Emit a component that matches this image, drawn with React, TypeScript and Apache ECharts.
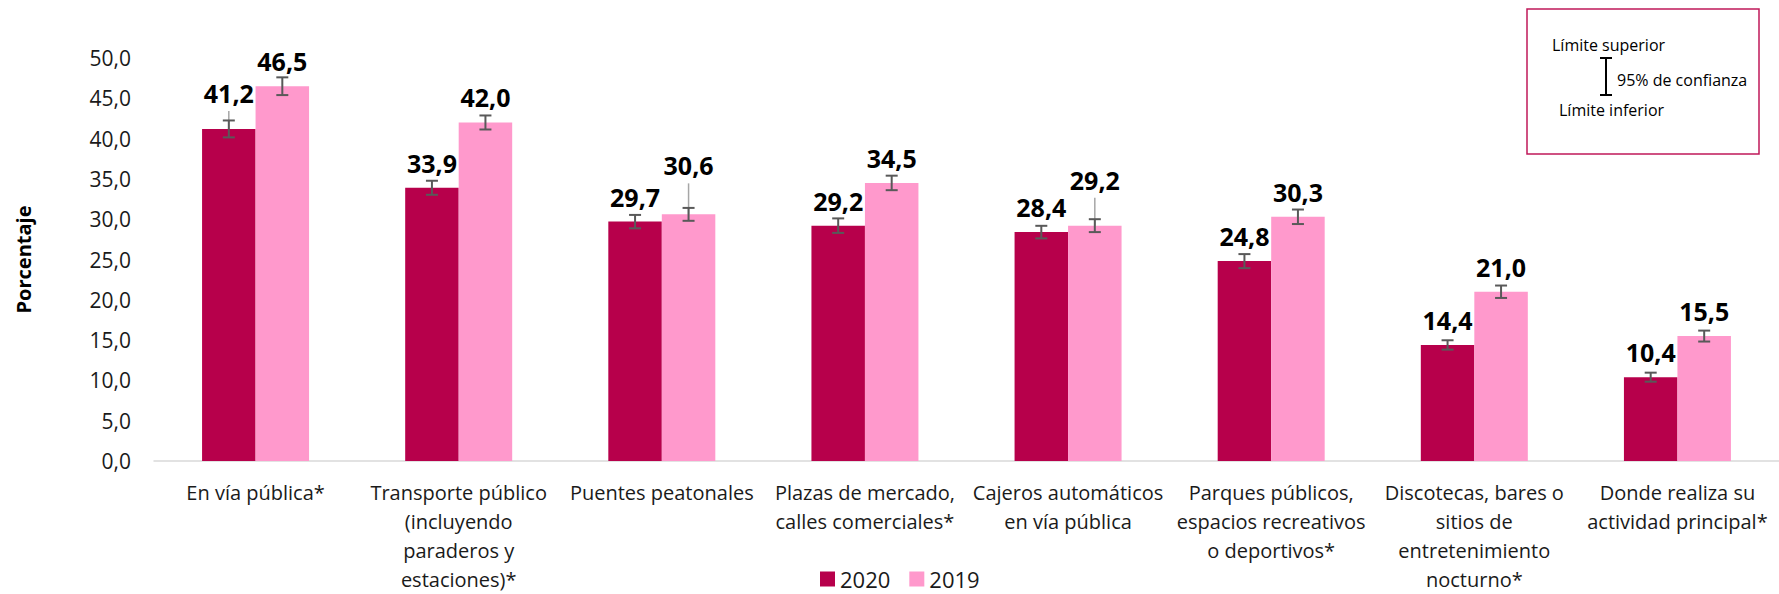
import React, { useEffect, useRef } from "react";
import * as echarts from "echarts";

const categories = [
  "En vía pública*",
  "Transporte público\n(incluyendo\nparaderos y\nestaciones)*",
  "Puentes peatonales",
  "Plazas de mercado,\ncalles comerciales*",
  "Cajeros automáticos\nen vía pública",
  "Parques públicos,\nespacios recreativos\no deportivos*",
  "Discotecas, bares o\nsitios de\nentretenimiento\nnocturno*",
  "Donde realiza su\nactividad principal*",
];
const values2020 = [41.2, 33.9, 29.7, 29.2, 28.4, 24.8, 14.4, 10.4];
const values2019 = [46.5, 42.0, 30.6, 34.5, 29.2, 30.3, 21.0, 15.5];
const err2020 = [1.05, 0.87, 0.83, 0.9, 0.78, 0.87, 0.58, 0.56];
const err2019 = [1.1, 0.87, 0.8, 0.9, 0.8, 0.9, 0.77, 0.68];
// labels moved up by hand in the original (with a leader line)
const labelLift2020 = [11, 0, 0, 0, 0, 0, 0, 0];
const labelLift2019 = [0, 0, 24, 0, 21, 0, 0, 0];
const seriesNames = ["2020", "2019"];

const C2020 = "#B7004B";
const C2019 = "#FF99CC";
const BAR_W = 53.5;
const FONT = "'Segoe UI', 'Open Sans', 'Noto Sans', sans-serif";
const fmt = (v: number) => v.toFixed(1).replace(".", ",");
const LABEL_DIST = 11;

function errSeries(vals: number[], errs: number[], lifts: number[], side: number) {
  return {
    type: "custom",
    silent: true,
    z: 5,
    data: vals.map((v, i) => [i, v, errs[i], lifts[i]]),
    renderItem: (params: any, api: any) => {
      const i = api.value(0);
      const v = api.value(1);
      const e = api.value(2);
      const lift = api.value(3);
      const top = api.coord([i, v]);
      const hi = api.coord([i, v + e]);
      const lo = api.coord([i, v - e]);
      const x = top[0] + side * BAR_W / 2;
      const cap = 6;
      const children: any[] = [];
      if (lift > 0) {
        children.push({
          type: "line",
          shape: { x1: x, y1: top[1], x2: x, y2: top[1] - lift - 7 },
          style: { stroke: "#a6a6a6", lineWidth: 1.5 },
        });
      }
      const es = { stroke: "#595959", lineWidth: 2 };
      children.push(
        { type: "line", shape: { x1: x, y1: hi[1], x2: x, y2: lo[1] }, style: es },
        { type: "line", shape: { x1: x - cap, y1: hi[1], x2: x + cap, y2: hi[1] }, style: es },
        { type: "line", shape: { x1: x - cap, y1: lo[1], x2: x + cap, y2: lo[1] }, style: es }
      );
      return { type: "group", children };
    },
  };
}

export default function App() {
  const ref = useRef<HTMLDivElement>(null);
  useEffect(() => {
    document.body.style.margin = "0";
    const chart = echarts.init(ref.current!, null, { renderer: "svg" });
    const barLabel = {
      show: true,
      position: "top",
      distance: LABEL_DIST,
      formatter: (p: any) => fmt(p.value),
      fontFamily: FONT,
      fontWeight: "bold",
      fontSize: 25,
      lineHeight: 28,
      color: "#000",
    };
    chart.setOption({
      animation: false,
      textStyle: { fontFamily: FONT },
      grid: { left: 154, top: 58, width: 1637, height: 404 },
      legend: {
        data: seriesNames,
        left: 815,
        top: 567,
        padding: [0, 5, 0, 5],
        icon: "rect",
        itemWidth: 15,
        itemHeight: 15,
        itemGap: 19,
        textStyle: { fontFamily: FONT, fontSize: 22, lineHeight: 24, color: "#1a1a1a" },
      },
      xAxis: {
        type: "category",
        data: categories,
        axisLine: { lineStyle: { color: "#d9d9d9", width: 1.5 } },
        axisTick: { show: false },
        axisLabel: {
          interval: 0,
          margin: 17,
          fontFamily: FONT,
          fontSize: 20,
          lineHeight: 29,
          color: "#1a1a1a",
        },
      },
      yAxis: {
        type: "value",
        min: 0,
        max: 50,
        interval: 5,
        name: "Porcentaje",
        nameLocation: "middle",
        nameGap: 121,
        nameTextStyle: { fontFamily: FONT, fontWeight: "bold", fontSize: 20, color: "#000" },
        splitLine: { show: false },
        axisLine: { show: false },
        axisTick: { show: false },
        axisLabel: {
          margin: 23,
          fontFamily: FONT,
          fontSize: 21,
          color: "#1a1a1a",
          formatter: (v: number) => fmt(v),
        },
      },
      series: [
        {
          name: seriesNames[0],
          type: "bar",
          barWidth: BAR_W,
          barGap: "0%",
          itemStyle: { color: C2020 },
          data: values2020.map((v, i) => ({
            value: v,
            label: { distance: LABEL_DIST + labelLift2020[i] },
          })),
          label: barLabel,
        },
        {
          name: seriesNames[1],
          type: "bar",
          barWidth: BAR_W,
          barGap: "0%",
          itemStyle: { color: C2019 },
          data: values2019.map((v, i) => ({
            value: v,
            label: { distance: LABEL_DIST + labelLift2019[i] },
          })),
          label: barLabel,
        },
        errSeries(values2020, err2020, labelLift2020, -1),
        errSeries(values2019, err2019, labelLift2019, 1),
      ],
      graphic: [
        {
          type: "rect",
          shape: { x: 1527, y: 9, width: 232, height: 145 },
          style: { fill: "#fff", stroke: "#C0185A", lineWidth: 1.5 },
        },
        {
          type: "text",
          x: 1552,
          y: 45,
          style: { text: "Límite superior", font: `16px ${FONT}`, fill: "#000", verticalAlign: "middle" },
        },
        {
          type: "text",
          x: 1617,
          y: 80,
          style: { text: "95% de confianza", font: `16px ${FONT}`, fill: "#000", verticalAlign: "middle" },
        },
        {
          type: "text",
          x: 1559,
          y: 110,
          style: { text: "Límite inferior", font: `16px ${FONT}`, fill: "#000", verticalAlign: "middle" },
        },
        { type: "line", shape: { x1: 1606, y1: 58, x2: 1606, y2: 95 }, style: { stroke: "#000", lineWidth: 2 } },
        { type: "line", shape: { x1: 1600, y1: 58, x2: 1612, y2: 58 }, style: { stroke: "#000", lineWidth: 2 } },
        { type: "line", shape: { x1: 1600, y1: 95, x2: 1612, y2: 95 }, style: { stroke: "#000", lineWidth: 2 } },
      ],
    });
    return () => chart.dispose();
  }, []);
  return <div ref={ref} style={{ width: 1779, height: 594 }} />;
}
